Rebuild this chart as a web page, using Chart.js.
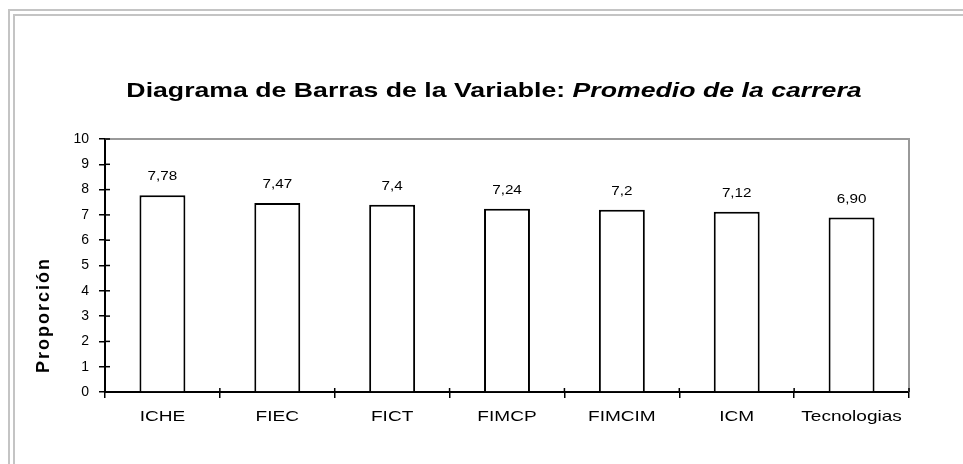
<!DOCTYPE html>
<html>
<head>
<meta charset="utf-8">
<script src="https://cdn.jsdelivr.net/npm/chart.js@4.4.1/dist/chart.umd.min.js"></script>
<style>
  html, body { margin: 0; padding: 0; background: #fff; overflow: hidden; }
  #wrap { position: relative; width: 963px; height: 464px; }
</style>
</head>
<body>
<div id="wrap"><canvas id="chart"></canvas></div>
<script>
/* ── Data ── */
var carreras = ['ICHE', 'FIEC', 'FICT', 'FIMCP', 'FIMCIM', 'ICM', 'Tecnologias'];
var promedios = [7.78, 7.47, 7.4, 7.24, 7.2, 7.12, 6.90];
var etiquetas = ['7,78', '7,47', '7,4', '7,24', '7,2', '7,12', '6,90'];
var yMin = 0, yMax = 10, yStep = 1;

var FONT = 'Arial, "Liberation Sans", sans-serif';
var STRETCH = 1.27; // the original's text is drawn a bit wide

// draw text stretched horizontally around its centre
function wideText(ctx, txt, x, y) {
  ctx.save();
  ctx.translate(x, y);
  ctx.scale(STRETCH, 1);
  ctx.fillText(txt, 0, 0);
  ctx.restore();
}

/* ── Decorations: frame, plot border, inner ticks, labels, titles ── */
var decor = {
  id: 'decor',
  beforeDraw: function(chart) {
    var ctx = chart.ctx;
    ctx.save();
    ctx.strokeStyle = '#c4c4c4';
    ctx.lineWidth = 2;
    [[9, 10], [14, 15]].forEach(function(p) {
      ctx.beginPath();
      ctx.moveTo(p[0], chart.height + 5);
      ctx.lineTo(p[0], p[1]);
      ctx.lineTo(chart.width + 5, p[1]);
      ctx.stroke();
    });
    ctx.restore();
  },
  afterDraw: function(chart) {
    var ctx = chart.ctx, a = chart.chartArea;
    var xs = chart.scales.x, ys = chart.scales.y;
    ctx.save();
    // gray top/right border of plot
    ctx.strokeStyle = '#999';
    ctx.lineWidth = 2;
    ctx.beginPath();
    ctx.moveTo(a.left, a.top);
    ctx.lineTo(a.right, a.top);
    ctx.lineTo(a.right, a.bottom);
    ctx.stroke();
    // inner half of the tick marks
    ctx.strokeStyle = '#000';
    ctx.lineWidth = 1.5;
    ys.ticks.forEach(function(t) {
      var y = ys.getPixelForValue(t.value);
      ctx.beginPath();
      ctx.moveTo(a.left, y);
      ctx.lineTo(a.left + 5, y);
      ctx.stroke();
    });
    var step = xs.getPixelForValue(1) - xs.getPixelForValue(0);
    for (var i = 0; i <= carreras.length; i++) {
      var x = xs.getPixelForValue(i) - step / 2;
      ctx.beginPath();
      ctx.moveTo(x, a.bottom);
      ctx.lineTo(x, a.bottom - 4);
      ctx.stroke();
    }
    ctx.fillStyle = '#000';
    ctx.textAlign = 'center';
    ctx.textBaseline = 'middle';
    // category labels
    ctx.font = '15px ' + FONT;
    carreras.forEach(function(c, i) {
      wideText(ctx, c, xs.getPixelForValue(i), a.bottom + 25);
    });
    // value labels above bars
    ctx.font = '12px ' + FONT;
    chart.getDatasetMeta(0).data.forEach(function(bar, i) {
      wideText(ctx, etiquetas[i], bar.x, bar.y - 18);
    });
    // title with italic part
    var t1 = 'Diagrama de Barras de la Variable: ';
    var t2 = 'Promedio de la carrera';
    ctx.textAlign = 'left';
    ctx.textBaseline = 'alphabetic';
    ctx.font = 'bold 21px ' + FONT;
    var w1 = ctx.measureText(t1).width;
    ctx.font = 'italic bold 21px ' + FONT;
    var w2 = ctx.measureText(t2).width;
    ctx.save();
    ctx.translate(494, 97);
    ctx.scale(STRETCH, 1);
    var x0 = -(w1 + w2) / 2;
    ctx.font = 'bold 21px ' + FONT;
    ctx.fillText(t1, x0, 0);
    ctx.font = 'italic bold 21px ' + FONT;
    ctx.fillText(t2, x0 + w1, 0);
    ctx.restore();
    // y axis title (sits low, as in the original)
    ctx.translate(44, 315);
    ctx.rotate(-Math.PI / 2);
    ctx.font = 'bold 18px ' + FONT;
    ctx.letterSpacing = '2px';
    ctx.textAlign = 'center';
    ctx.textBaseline = 'middle';
    ctx.fillText('Proporción', 0, 0);
    ctx.restore();
  }
};

new Chart(document.getElementById('chart'), {
  type: 'bar',
  data: {
    labels: carreras,
    datasets: [{
      data: promedios,
      backgroundColor: '#fff',
      borderColor: '#000',
      borderWidth: 2,
      categoryPercentage: 1,
      barPercentage: 0.4
    }]
  },
  options: {
    responsive: true,
    maintainAspectRatio: false,
    animation: false,
    layout: { padding: { left: 0, top: 139, right: 54, bottom: 0 } },
    plugins: { legend: { display: false }, tooltip: { enabled: false }, title: { display: false } },
    scales: {
      x: {
        grid: { drawOnChartArea: false, offset: true, tickLength: 6, color: '#000', lineWidth: 1.5 },
        border: { color: '#000', width: 2 },
        ticks: { display: false, autoSkip: false },
        afterFit: function(s) { s.height = 72; }
      },
      y: {
        min: yMin,
        max: yMax,
        grid: { drawOnChartArea: false, tickLength: 6, color: '#000', lineWidth: 1.5 },
        border: { color: '#000', width: 2 },
        ticks: { stepSize: yStep, color: '#000', font: { family: FONT, size: 14 }, padding: 10 },
        afterFit: function(s) { s.width = 105; }
      }
    }
  },
  plugins: [decor]
});
</script>
</body>
</html>
